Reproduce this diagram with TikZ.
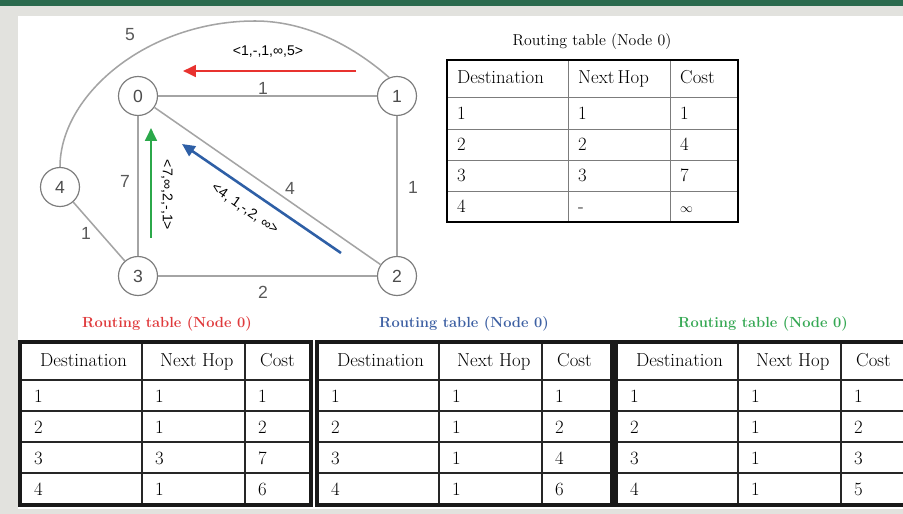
\documentclass[tikz,border=0pt]{standalone}
\usepackage{fontspec}
\setsansfont{Liberation Sans}
\usetikzlibrary{arrows.meta}
\definecolor{barGreen}{HTML}{2B6A4E}
\definecolor{pageGray}{HTML}{E2E2DE}
\definecolor{edgeGray}{HTML}{A4A4A4}
\definecolor{ringGray}{HTML}{7C7C7C}
\definecolor{vecRed}{HTML}{E8322F}
\definecolor{vecBlue}{HTML}{2E5FA6}
\definecolor{vecGreen}{HTML}{2BA84A}
\definecolor{capRed}{HTML}{E03A3C}
\definecolor{capBlue}{HTML}{3D60A3}
\definecolor{capGreen}{HTML}{35A853}

\begin{document}
\begin{tikzpicture}[x=0.03cm, y=-0.03cm,
  vtx/.style={draw=ringGray, line width=1pt, circle, fill=white, minimum size=1.17cm, inner sep=0pt, font=\sffamily\fontsize{15}{15}\selectfont, text=black!70},
  link/.style={draw=edgeGray, line width=1.3pt},
  wlbl/.style={font=\sffamily\fontsize{15}{15}\selectfont, text=black!65, inner sep=0pt},
  vec/.style={line width=2.2pt, -{Triangle[length=11pt,width=10pt]}},
  veclbl/.style={font=\sffamily\fontsize{12}{12}\selectfont, inner sep=0pt},
  cell/.style={font=\fontsize{16}{16}\selectfont, inner sep=0pt, anchor=base west},
  tcap/.style={font=\fontsize{13.5}{13.5}\selectfont, inner sep=0pt}]
  \useasboundingbox (0,0) rectangle (903,514);
  \clip (0,0) rectangle (903,514);
  % page background
  \fill[pageGray] (0,0) rectangle (903,514);
  \fill[barGreen] (0,0) rectangle (903,6);
  \fill[white] (18,16) rectangle (903,509);

  % network
  \node[vtx] (n0) at (138,96) {0};
  \node[vtx] (n1) at (397,96) {1};
  \node[vtx] (n2) at (397,276) {2};
  \node[vtx] (n3) at (138,276) {3};
  \node[vtx] (n4) at (60,187) {4};
  \draw[link] (n0) -- (n1); \draw[link] (n0) -- (n3); \draw[link] (n0) -- (n2);
  \draw[link] (n1) -- (n2); \draw[link] (n3) -- (n2); \draw[link] (n4) -- (n3);
  \draw[link] (n4.north) .. controls (60,95) and (147,21) .. (255,21) .. controls (304,21) and (351,44) .. (n1.113);
  \node[wlbl] (w14) at (130,35) {5};
  \node[wlbl] (w01) at (263,88) {1};
  \node[wlbl] (w03) at (125,181) {7};
  \node[wlbl] (w02) at (290,188) {4};
  \node[wlbl] (w12) at (413,187) {1};
  \node[wlbl] (w43) at (86,233) {1};
  \node[wlbl] (w32) at (263,292) {2};

  % distance vectors sent to node 0
  \coordinate (redFrom) at (356,71); \coordinate (redTo) at (183,71);
  \draw[vec,vecRed] (redFrom) -- (redTo);
  \node[veclbl] (redVec) at (268,52) {<1,-,1,∞,5>};
  \coordinate (greenFrom) at (151,238); \coordinate (greenTo) at (151,128);
  \draw[vec,vecGreen] (greenFrom) -- (greenTo);
  \node[veclbl,rotate=-90] (greenVec) at (167,195) {<7,∞,2,-,1>};
  \coordinate (blueFrom) at (341,253); \coordinate (blueTo) at (182,144);
  \draw[vec,vecBlue] (blueFrom) -- (blueTo);
  \node[veclbl,rotate=-35] (blueVec) at (245,209) {<4, 1,-,2, ∞>};

  % initial table of node 0
  \node[tcap] (topCap) at (592,42) {Routing table (Node 0)};
  \foreach \yy in {97,129,160,191} \draw[ringGray,line width=0.8pt] (447,\yy) -- (738,\yy);
  \foreach \xx in {568,670} \draw[ringGray,line width=0.8pt] (\xx,60) -- (\xx,222);
  \draw[line width=2.4pt] (447,60) rectangle (738,222);
  \node[cell] (top-h-d) at (457,84) {Destination};
  \node[cell] (top-h-h) at (578,84) {Next\,Hop};
  \node[cell] (top-h-c) at (680,84) {Cost};
  \foreach \d/\h/\c [count=\r] in {1/1/1, 2/2/4, 3/3/7, 4/-/{\fontsize{11}{11}\selectfont$\infty$}} {
    \node[cell] (top-\r-d) at (457,89+31*\r) {\d};
    \node[cell] (top-\r-h) at (578,89+31*\r) {\h};
    \node[cell] (top-\r-c) at (680,89+31*\r) {\c};
  }

  % updated tables after each vector
  \foreach \tx/\tw/\tn/\col/\hc/\cc/\cd in {20/291/A/capRed/3/7/6, 317/295/B/capBlue/1/4/6, 616/300/C/capGreen/1/3/5} {
    \begin{scope}[shift={(\tx,0)}]
      \node[tcap,font=\bfseries\fontsize{12.5}{12.5}\selectfont,text=\col] (\tn-cap) at (147,324) {Routing table (Node 0)};
      \foreach \yy in {380,411,442,473} \draw[black!85,line width=2pt] (0,\yy) -- (\tw,\yy);
      \foreach \xx in {122,225} \draw[black!85,line width=2pt] (\xx,342) -- (\xx,505);
      \draw[black!90,line width=3pt] (0,342) rectangle (\tw,505);
      \node[cell] (\tn-h-d) at (20,366) {Destination};
      \node[cell] (\tn-h-h) at (140,366) {Next Hop};
      \node[cell] (\tn-h-c) at (240,366) {Cost};
      \foreach \d/\h/\c [count=\r] in {1/1/1, 2/1/2, 3/\hc/\cc, 4/1/\cd} {
        \node[cell] (\tn-\r-d) at (14,371+31*\r) {\d};
        \node[cell] (\tn-\r-h) at (135,371+31*\r) {\h};
        \node[cell] (\tn-\r-c) at (238,371+31*\r) {\c};
      }
    \end{scope}
  }
\end{tikzpicture}
\end{document}
